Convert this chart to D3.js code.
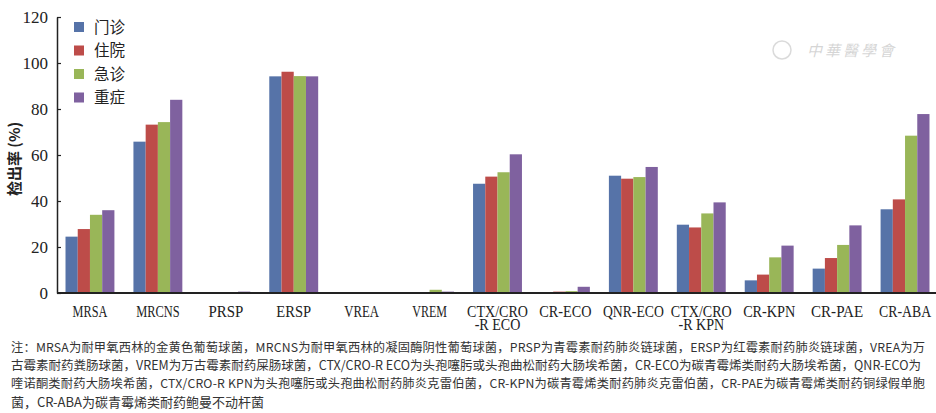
<!DOCTYPE html>
<html><head><meta charset="utf-8">
<script src="https://cdn.jsdelivr.net/npm/d3@7"></script>
<style>
body{margin:0;background:#fff;}
svg{display:block;}
</style></head>
<body>
<svg id="chart" width="936" height="413"></svg>
<script>
const categories = ["MRSA","MRCNS","PRSP","ERSP","VREA","VREM","CTX/CRO\n-R ECO","CR-ECO","QNR-ECO","CTX/CRO\n-R KPN","CR-KPN","CR-PAE","CR-ABA"];
const seriesNames = ["门诊","住院","急诊","重症"];
const s_outpatient = [24.5, 65.8, 0, 94.2, 0, 0, 47.5, 0.2, 51, 29.7, 5.5, 10.6, 36.4];
const s_inpatient  = [27.8, 73.2, 0, 96.2, 0, 0, 50.6, 0.6, 49.7, 28.5, 8, 15.2, 40.7];
const s_emergency  = [34, 74.3, 0.2, 94.3, 0, 1.4, 52.5, 0.8, 50.4, 34.6, 15.5, 20.9, 68.4];
const s_icu        = [36, 84, 0.6, 94.2, 0, 0.6, 60.3, 2.7, 54.8, 39.4, 20.6, 29.4, 77.8];
const seriesValues = [s_outpatient, s_inpatient, s_emergency, s_icu];
const yTicks = [0,20,40,60,80,100,120];
const yTitle = "检出率 (%)";
const noteLines = [
 "注：MRSA为耐甲氧西林的金黄色葡萄球菌，MRCNS为耐甲氧西林的凝固酶阴性葡萄球菌，PRSP为青霉素耐药肺炎链球菌，ERSP为红霉素耐药肺炎链球菌，VREA为万",
 "古霉素耐药粪肠球菌，VREM为万古霉素耐药屎肠球菌，CTX/CRO-R ECO为头孢噻肟或头孢曲松耐药大肠埃希菌，CR-ECO为碳青霉烯类耐药大肠埃希菌，QNR-ECO为",
 "喹诺酮类耐药大肠埃希菌，CTX/CRO-R KPN为头孢噻肟或头孢曲松耐药肺炎克雷伯菌，CR-KPN为碳青霉烯类耐药肺炎克雷伯菌，CR-PAE为碳青霉烯类耐药铜绿假单胞",
 "菌，CR-ABA为碳青霉烯类耐药鲍曼不动杆菌"
];
const colors = ["#5673a8","#bd4c49","#99b658","#7f619f"];

const svg = d3.select("#chart");
const x0 = d3.scaleBand().domain(categories).range([56, 939]).paddingInner(0.28).paddingOuter(0.14);
const x1 = d3.scaleBand().domain(d3.range(4)).range([0, x0.bandwidth()]);
const y = d3.scaleLinear().domain([0,120]).range([293, 17]);

// bars
categories.forEach((c, ci) => {
  const g = svg.append("g").attr("transform", `translate(${x0(c)},0)`);
  seriesValues.forEach((vals, si) => {
    const v = vals[ci];
    g.append("rect").attr("x", x1(si)).attr("width", x1.bandwidth())
      .attr("y", y(v)).attr("height", y(0) - y(v)).attr("fill", colors[si]);
  });
});

// y axis
const yAxis = d3.axisLeft(y).tickValues(yTicks).tickSizeInner(-4).tickSizeOuter(0).tickPadding(9);
const ya = svg.append("g").attr("transform","translate(57,0)").call(yAxis);
ya.select(".domain").attr("stroke","#222").attr("stroke-width",1.5);
ya.selectAll(".tick line").attr("stroke","#222").attr("stroke-width",1.2);
ya.selectAll(".tick text").attr("font-family","'Liberation Serif', serif").attr("font-size",17).attr("fill","#222");

// x axis line
svg.append("line").attr("x1",57).attr("x2",936).attr("y1",y(0)).attr("y2",y(0)).attr("stroke","#222").attr("stroke-width",1.8);

// x labels (one text element per category, lines as tspans)
categories.forEach(c => {
  const cx = x0(c) + x0.bandwidth()/2;
  const lines = c.split("\n");
  const t = svg.append("text").attr("font-family","'Liberation Serif', serif").attr("font-size",17)
    .attr("fill","#222").attr("text-anchor","middle");
  lines.forEach((ln, li) => {
    t.append("tspan").attr("x",0).attr("y", li*13.5).text(ln);
  });
  const tmp = svg.append("text").attr("font-family","'Liberation Serif', serif").attr("font-size",17).text(lines[0]);
  const w = tmp.node().getComputedTextLength(); tmp.remove();
  const s = (lines[0].length * 8.7) / w;
  t.attr("transform", `translate(${cx},316.5) scale(${s},1)`);
});

// y title
svg.append("text").attr("transform","translate(20,159) rotate(-90)")
  .attr("text-anchor","middle").attr("font-family","'Noto Sans CJK SC', sans-serif")
  .attr("font-size",15).attr("font-weight","bold").attr("fill","#222").text(yTitle);

// legend
seriesNames.forEach((n, i) => {
  const ly = 27 + i*23.5;
  svg.append("rect").attr("x",74).attr("y",ly-5).attr("width",10).attr("height",10).attr("fill",colors[i]);
  svg.append("text").attr("x",94).attr("y",ly).attr("dy","0.36em")
    .attr("font-family","'Noto Sans CJK SC', sans-serif").attr("font-size",15.5).attr("fill","#222").text(n);
});

// watermark
const wm = svg.append("g").attr("opacity",0.3);
wm.append("circle").attr("cx",782).attr("cy",50).attr("r",9).attr("fill","none").attr("stroke","#888").attr("stroke-width",1.5);
wm.append("text").attr("x",807).attr("y",56).attr("font-family","'Noto Sans CJK SC', sans-serif")
  .attr("font-style","italic").attr("font-size",15).attr("fill","#777").attr("letter-spacing",3).text("中華醫學會");

// notes
const noteEnds = [925, 921, 925, null];
noteLines.forEach((ln, i) => {
  let fs = 13;
  const t = svg.append("text").attr("x",11).attr("y",347.5 + i*18.2).attr("dy","0.36em")
    .attr("font-family","'Noto Sans CJK SC', sans-serif").attr("font-size",fs).attr("fill","#333").text(ln);
  if (noteEnds[i]) {
    const target = noteEnds[i] - 11;
    let w = t.node().getComputedTextLength();
    while (w > target && fs > 9) { fs -= 0.25; t.attr("font-size", fs); w = t.node().getComputedTextLength(); }
    const ls = (target - w) / (ln.length - 1);
    t.attr("letter-spacing", ls.toFixed(3));
  }
});
</script>
</body></html>
